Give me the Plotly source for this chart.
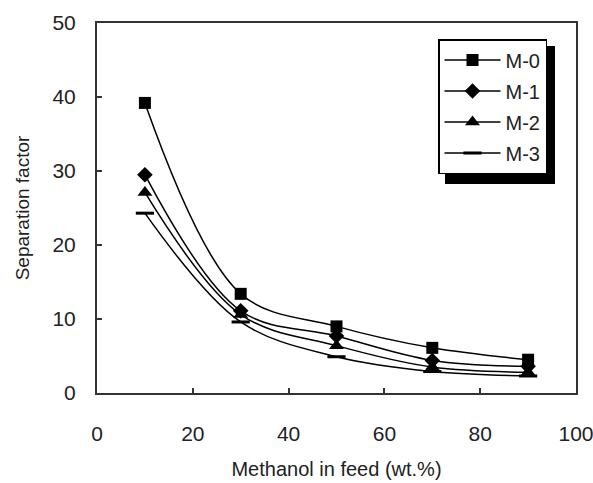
import plotly.graph_objects as go

methanol = [10, 30, 50, 70, 90]
m0 = [39.2, 13.4, 9.0, 6.1, 4.5]
m1 = [29.5, 11.1, 7.7, 4.4, 3.6]
m2 = [27.1, 10.6, 6.4, 3.5, 2.8]
m3 = [24.3, 9.6, 4.9, 2.9, 2.3]
names = ["M-0", "M-1", "M-2", "M-3"]
x_ticks = [0, 20, 40, 60, 80, 100]
y_ticks = [0, 10, 20, 30, 40, 50]

series = [m0, m1, m2, m3]
symbols = ["square", "diamond", "triangle-up", "line-ew"]
sizes = [12, 12, 13, 13]

FONT = "Liberation Sans, Arial, sans-serif"
fig = go.Figure()
for i, (name, ys) in enumerate(zip(names, series)):
    sym = symbols[i]
    marker = dict(symbol=sym, size=sizes[i], color="black")
    if sym == "line-ew":
        marker["line"] = dict(color="black", width=3)
    else:
        marker["line"] = dict(color="black", width=0)
    fig.add_trace(go.Scatter(
        x=methanol, y=ys, name=name, mode="lines+markers",
        line=dict(color="black", width=1.5, shape="spline", smoothing=1.0),
        marker=marker, legendgroup=name,
    ))

W, H = 593, 483
L, R, T, B = 97, 17, 23, 90
pw, ph = W - L - R, H - T - B

def px(xp):
    return (xp - L) / pw

def py(yp):
    return (H - B - yp) / ph

# legend drop shadow
fig.add_shape(type="rect", xref="paper", yref="paper",
              x0=px(445), x1=px(555), y0=py(184), y1=py(46),
              fillcolor="black", line=dict(width=0), layer="below")

axis_common = dict(
    showline=True, linecolor="#333333", linewidth=2, mirror=True,
    ticks="inside", ticklen=5, tickwidth=1.5, tickcolor="#333333",
    showgrid=False, zeroline=False, ticklabeloverflow="allow", automargin=False,
    tickfont=dict(family=FONT, size=21, color="#222222"),
)
fig.update_xaxes(range=[0, 100], tickvals=x_ticks, ticklabelstandoff=21,
                 title=dict(text="Methanol in feed (wt.%)",
                            font=dict(family=FONT, size=20, color="#222222"),
                            standoff=18),
                 **axis_common)
fig.update_yaxes(range=[0, 50], tickvals=y_ticks, ticklabelstandoff=15,
                 title=dict(text="Separation factor",
                            font=dict(family=FONT, size=19, color="#222222"),
                            standoff=18),
                 **axis_common)

fig.update_layout(
    width=W, height=H,
    margin=dict(l=L, r=R, t=T, b=B, autoexpand=False),
    paper_bgcolor="white", plot_bgcolor="white",
    showlegend=True,
    legend=dict(x=px(438), y=py(39), xanchor="left", yanchor="top",
                bgcolor="white", bordercolor="black", borderwidth=1.5,
                font=dict(family=FONT, size=20, color="#222222"),
                itemwidth=56, tracegroupgap=2, traceorder="grouped"),
)

fig.write_html("out.html")
